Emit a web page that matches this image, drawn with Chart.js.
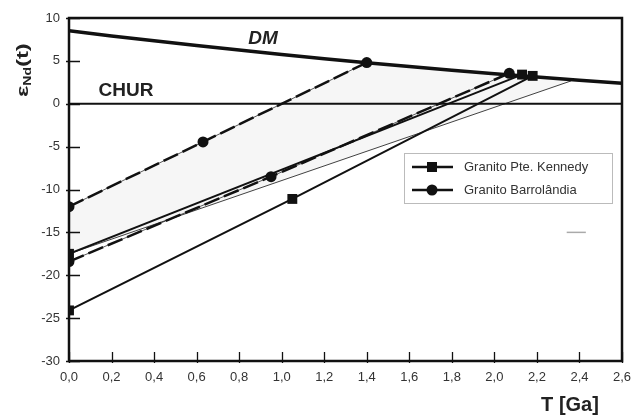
<!DOCTYPE html>
<html>
<head>
<meta charset="utf-8">
<script src="https://cdn.jsdelivr.net/npm/chart.js@4.4.1/dist/chart.umd.min.js"></script>
<style>
    html, body { margin: 0; padding: 0; background: #fff; }
    #wrap { width: 633px; height: 415px; }
</style>
</head>
<body>
<div id="wrap"><canvas id="chart" width="633" height="415"></canvas></div>
<script>
// Depleted mantle curve and CHUR reference
const dmT = [0, 0.2, 0.4, 0.6, 0.8, 1.0, 1.2, 1.4, 1.6, 1.8, 2.0, 2.2, 2.4, 2.6];
const dmE = [8.5, 7.91, 7.34, 6.79, 6.26, 5.75, 5.26, 4.79, 4.34, 3.91, 3.5, 3.11, 2.74, 2.39];
const churT = [0, 2.6];
const churE = [0, 0];

// Granito Pte. Kennedy (squares)
const kennedyT = [0, 0, 1.05, 2.13, 2.18];
const kennedyE = [-17.5, -24.1, -11.1, 3.4, 3.25];
const kennedyLineAT = [0, 2.13];
const kennedyLineAE = [-17.5, 3.4];
const kennedyLineBT = [0, 1.05, 2.18];
const kennedyLineBE = [-24.1, -11.1, 3.25];
const modelT = [0, 2.36];
const modelE = [-17.5, 2.66];

// Granito Barrolândia (circles)
const barroT = [0, 0.63, 1.4, 0, 0.95, 2.07];
const barroE = [-12, -4.45, 4.8, -18.4, -8.5, 3.55];
const barroLineAT = [0, 0.63, 1.4];
const barroLineAE = [-12, -4.45, 4.8];
const barroLineBT = [0, 0.95, 2.07];
const barroLineBE = [-18.4, -8.5, 3.55];

// small grey mark right of the legend
const strayT = [2.34, 2.43];
const strayE = [-15, -15];

const xTicks = [0, 0.2, 0.4, 0.6, 0.8, 1.0, 1.2, 1.4, 1.6, 1.8, 2.0, 2.2, 2.4, 2.6];
const yTicks = [-30, -25, -20, -15, -10, -5, 0, 5, 10];

const pts = (xs, ys) => xs.map((x, i) => ({ x: x, y: ys[i] }));

// shaded field: upper dashed line, DM curve, thin model line
const fillPts = [
    { x: barroLineAT[0], y: barroLineAE[0] },
    { x: barroLineAT[2], y: barroLineAE[2] },
    ...pts(dmT, dmE).filter(p => p.x > barroLineAT[2] && p.x < modelT[1]),
    { x: modelT[1], y: modelE[1] },
    { x: modelT[0], y: modelE[0] }
];

const FONT = "'Liberation Sans', Arial, sans-serif";
const INK = '#111';

function line(data, width, dash) {
    return {
        data: data,
        showLine: true,
        borderColor: INK,
        borderWidth: width,
        borderDash: dash || [],
        pointRadius: 0,
        fill: false,
        tension: 0
    };
}

const decorPlugin = {
    id: 'decor',
    afterDraw(chart) {
        const ctx = chart.ctx;
        const a = chart.chartArea;
        const xs = chart.scales.x, ys = chart.scales.y;
        ctx.save();

        // frame
        ctx.strokeStyle = INK;
        ctx.lineWidth = 2.5;
        ctx.strokeRect(a.left, a.top, a.right - a.left, a.bottom - a.top);

        // tick marks
        ctx.lineWidth = 1.3;
        ctx.beginPath();
        yTicks.forEach(v => {
            const y = Math.round(ys.getPixelForValue(v)) + 0.5;
            ctx.moveTo(a.left - 3, y);
            ctx.lineTo(a.left + 11, y);
        });
        xTicks.forEach(v => {
            const x = Math.round(xs.getPixelForValue(v)) + 0.5;
            ctx.moveTo(x, a.bottom - 9);
            ctx.lineTo(x, a.bottom + 2);
        });
        ctx.stroke();

        // curve labels
        ctx.fillStyle = '#222';
        ctx.textAlign = 'center';
        ctx.textBaseline = 'middle';
        ctx.font = 'italic bold 19px ' + FONT;
        ctx.fillText('DM', 263, 39);
        ctx.font = 'bold 19px ' + FONT;
        ctx.fillText('CHUR', 126, 91);

        // x title
        ctx.font = 'bold 20px ' + FONT;
        ctx.fillText('T [Ga]', 570, 405);

        // y title with subscript, stretched along the text
        ctx.save();
        ctx.translate(28, 97);
        ctx.rotate(-Math.PI / 2);
        ctx.scale(1.4, 1);
        ctx.textAlign = 'left';
        ctx.textBaseline = 'alphabetic';
        ctx.font = 'bold 17px ' + FONT;
        ctx.fillText('ε', 0, 0);
        let w = ctx.measureText('ε').width;
        ctx.font = 'bold 10px ' + FONT;
        ctx.fillText('Nd', w, 3);
        w += ctx.measureText('Nd').width;
        ctx.font = 'bold 17px ' + FONT;
        ctx.fillText('(t)', w, 0);
        ctx.restore();

        // legend
        ctx.lineWidth = 1;
        ctx.strokeStyle = '#bbb';
        ctx.strokeRect(404.5, 153.5, 208, 50);
        const items = [
            { label: 'Granito Pte. Kennedy', y: 167, shape: 'rect' },
            { label: 'Granito Barrolândia', y: 190, shape: 'circle' }
        ];
        items.forEach(it => {
            ctx.strokeStyle = INK;
            ctx.fillStyle = INK;
            ctx.lineWidth = 2.5;
            ctx.beginPath();
            ctx.moveTo(412, it.y);
            ctx.lineTo(453, it.y);
            ctx.stroke();
            ctx.beginPath();
            if (it.shape === 'rect') ctx.rect(427, it.y - 5, 10, 10);
            else ctx.arc(432, it.y, 5.5, 0, Math.PI * 2);
            ctx.fill();
            ctx.fillStyle = '#333';
            ctx.font = '13px ' + FONT;
            ctx.textAlign = 'left';
            ctx.textBaseline = 'middle';
            ctx.fillText(it.label, 464, it.y);
        });

        ctx.restore();
    }
};

new Chart(document.getElementById('chart'), {
    type: 'scatter',
    data: {
        datasets: [
            {
                data: pts(kennedyT, kennedyE),
                pointStyle: 'rect',
                pointRadius: 7,
                backgroundColor: INK,
                borderColor: INK,
                borderWidth: 0
            },
            {
                data: pts(barroT, barroE),
                pointStyle: 'circle',
                pointRadius: 5.5,
                backgroundColor: INK,
                borderColor: INK,
                borderWidth: 0
            },
            line(pts(barroLineAT, barroLineAE), 2.5, [16, 5]),
            line(pts(barroLineBT, barroLineBE), 2.5, [16, 5]),
            line(pts(barroLineAT, barroLineAE), 0.7),
            line(pts(barroLineBT, barroLineBE), 0.7),
            line(pts(kennedyLineAT, kennedyLineAE), 2),
            line(pts(kennedyLineBT, kennedyLineBE), 2),
            line(pts(modelT, modelE), 0.8),
            line(pts(dmT, dmE), 3.5),
            line(pts(churT, churE), 2),
            Object.assign(line(pts(strayT, strayE), 1.5), { borderColor: '#aaa' }),
            {
                data: fillPts,
                showLine: true,
                borderWidth: 0,
                borderColor: 'rgba(0,0,0,0)',
                backgroundColor: '#f6f6f6',
                pointRadius: 0,
                fill: 'shape'
            }
        ]
    },
    options: {
        responsive: false,
        animation: false,
        layout: { padding: { left: 0, right: 11, top: 18, bottom: 0 } },
        plugins: {
            legend: { display: false },
            tooltip: { enabled: false }
        },
        scales: {
            x: {
                type: 'linear',
                min: 0,
                max: 2.6,
                afterBuildTicks: s => { s.ticks = xTicks.map(v => ({ value: v })); },
                afterFit: s => { s.height = 54; s.paddingLeft = 0; s.paddingRight = 0; },
                grid: { display: false, drawTicks: false },
                border: { display: false },
                ticks: {
                    padding: 9,
                    color: '#333',
                    font: { family: FONT, size: 13 },
                    maxRotation: 0,
                    autoSkip: false,
                    callback: v => v.toFixed(1).replace('.', ',')
                }
            },
            y: {
                type: 'linear',
                min: -30,
                max: 10,
                afterBuildTicks: s => { s.ticks = yTicks.map(v => ({ value: v })); },
                afterFit: s => { s.width = 69; s.paddingTop = 0; s.paddingBottom = 0; },
                grid: { display: false, drawTicks: false },
                border: { display: false },
                ticks: {
                    padding: 9,
                    color: '#333',
                    font: { family: FONT, size: 13 },
                    autoSkip: false
                }
            }
        }
    },
    plugins: [decorPlugin]
});
</script>
</body>
</html>
